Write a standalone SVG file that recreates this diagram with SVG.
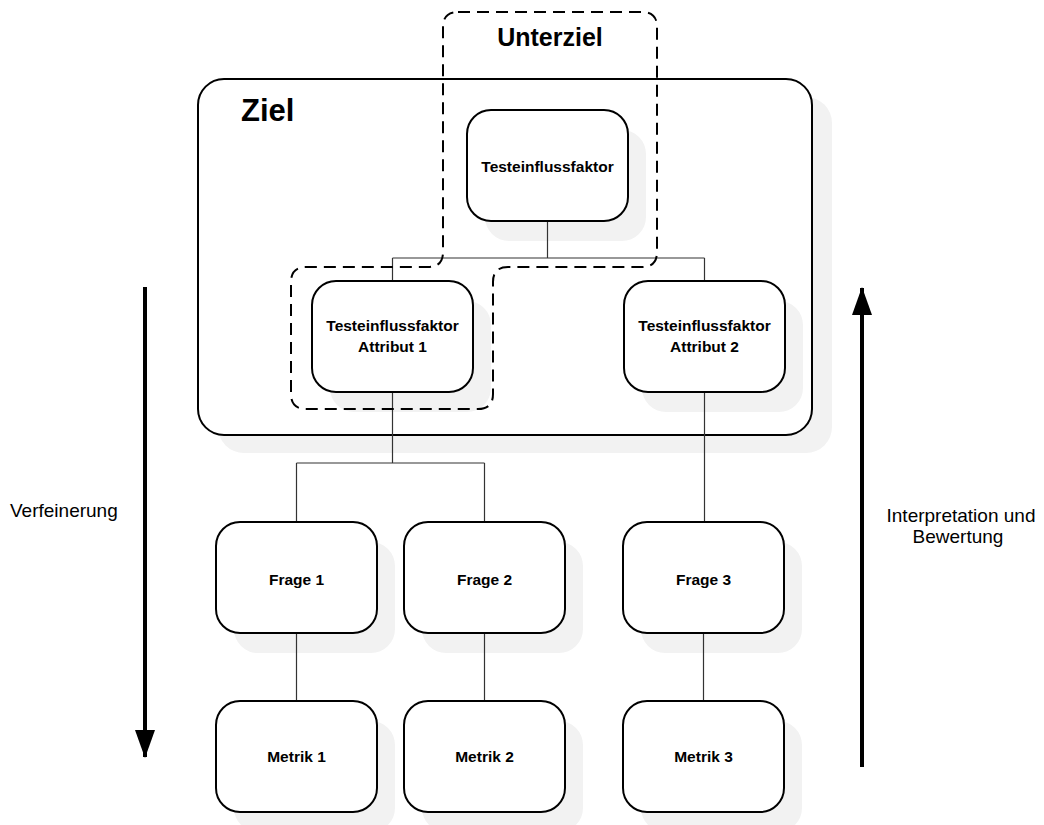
<svg xmlns="http://www.w3.org/2000/svg" width="1044" height="825" viewBox="0 0 1044 825">
  <style>
    .shadow { fill: #f2f2f2; stroke: none; }
    .box { fill: #ffffff; stroke: #000000; stroke-width: 2; }
    .label { font-family: "Liberation Sans", Arial, sans-serif; font-weight: bold; font-size: 15.5px; fill: #000000; text-anchor: middle; }
    .side { font-family: "Liberation Sans", Arial, sans-serif; font-size: 19px; fill: #000000; }
    .wire { fill: none; stroke: #333333; stroke-width: 1.2; }
    .flow { fill: none; stroke: #000000; stroke-width: 4; }
    .group { fill: none; stroke: #000000; stroke-width: 2; stroke-dasharray: 12 7; }
  </style>
  <defs>
    <marker id="head" viewBox="0 0 28 20" refX="27" refY="10" markerWidth="28" markerHeight="20" markerUnits="userSpaceOnUse" orient="auto">
      <path d="M0 0 L28 10 L0 20 Z" fill="#000000"/>
    </marker>
  </defs>

  <!-- goal container -->
  <g id="ziel">
    <rect class="shadow" x="218" y="97" width="614" height="356" rx="26"/>
    <rect class="box" x="198" y="79" width="614" height="356" rx="26"/>
    <text x="241" y="121" font-family="Liberation Sans, Arial, sans-serif" font-weight="bold" font-size="31" fill="#000">Ziel</text>
  </g>

  <!-- node shadows -->
  <g id="shadows">
    <rect class="shadow" x="485" y="130" width="161" height="111" rx="24"/>
    <rect class="shadow" x="330" y="301" width="161" height="111" rx="24"/>
    <rect class="shadow" x="642" y="301" width="161" height="111" rx="24"/>
    <rect class="shadow" x="234" y="542" width="161" height="111" rx="24"/>
    <rect class="shadow" x="422" y="542" width="161" height="111" rx="24"/>
    <rect class="shadow" x="641" y="542" width="161" height="111" rx="24"/>
    <rect class="shadow" x="234" y="721" width="161" height="111" rx="24"/>
    <rect class="shadow" x="422" y="721" width="161" height="111" rx="24"/>
    <rect class="shadow" x="641" y="721" width="161" height="111" rx="24"/>
  </g>

  <!-- tree connectors -->
  <g id="connectors">
    <path class="wire" d="M547.5 221 V258 M392.5 258 H704.5 M392.5 258 V281 M704.5 258 V281"/>
    <path class="wire" d="M392.5 392 V463 M296.5 463 H484.5 M296.5 463 V522 M484.5 463 V522"/>
    <path class="wire" d="M704.5 392 V522"/>
    <path class="wire" d="M296.5 633 V701 M484.5 633 V701 M703.5 633 V701"/>
  </g>

  <g id="tf">
    <rect class="box" x="467" y="110" width="161" height="111" rx="24"/>
    <text class="label" x="547.5" y="172">Testeinflussfaktor</text>
  </g>
  <g id="attr1">
    <rect class="box" x="312" y="281" width="161" height="111" rx="24"/>
    <text class="label" x="392.5" y="331">Testeinflussfaktor</text>
    <text class="label" x="392.5" y="352">Attribut 1</text>
  </g>
  <g id="attr2">
    <rect class="box" x="624" y="281" width="161" height="111" rx="24"/>
    <text class="label" x="704.5" y="331">Testeinflussfaktor</text>
    <text class="label" x="704.5" y="352">Attribut 2</text>
  </g>
  <g id="frage1">
    <rect class="box" x="216" y="522" width="161" height="111" rx="24"/>
    <text class="label" x="296.5" y="585">Frage 1</text>
  </g>
  <g id="frage2">
    <rect class="box" x="404" y="522" width="161" height="111" rx="24"/>
    <text class="label" x="484.5" y="585">Frage 2</text>
  </g>
  <g id="frage3">
    <rect class="box" x="623" y="522" width="161" height="111" rx="24"/>
    <text class="label" x="703.5" y="585">Frage 3</text>
  </g>
  <g id="metrik1">
    <rect class="box" x="216" y="701" width="161" height="111" rx="24"/>
    <text class="label" x="296.5" y="762">Metrik 1</text>
  </g>
  <g id="metrik2">
    <rect class="box" x="404" y="701" width="161" height="111" rx="24"/>
    <text class="label" x="484.5" y="762">Metrik 2</text>
  </g>
  <g id="metrik3">
    <rect class="box" x="623" y="701" width="161" height="111" rx="24"/>
    <text class="label" x="703.5" y="762">Metrik 3</text>
  </g>

  <!-- sub-goal outline -->
  <g id="unterziel">
    <path class="group" d="M458 12 H642 Q657 12 657 27 V252 Q657 267 642 267 H508 Q493 267 493 282 V394 Q493 409 478 409 H306 Q291 409 291 394 V282 Q291 267 306 267 H428 Q443 267 443 252 V27 Q443 12 458 12 Z"/>
    <text x="550" y="46" font-family="Liberation Sans, Arial, sans-serif" font-weight="bold" font-size="25" fill="#000" text-anchor="middle">Unterziel</text>
  </g>

  <!-- direction arrows -->
  <g id="verfeinerung">
    <line class="flow" x1="145" y1="287" x2="145" y2="757" marker-end="url(#head)"/>
    <text class="side" x="10" y="517">Verfeinerung</text>
  </g>
  <g id="interpretation">
    <line class="flow" x1="862" y1="767" x2="862" y2="288" marker-end="url(#head)"/>
    <text class="side" x="961" y="522" text-anchor="middle">Interpretation und</text>
    <text class="side" x="958" y="543" text-anchor="middle">Bewertung</text>
  </g>
</svg>
